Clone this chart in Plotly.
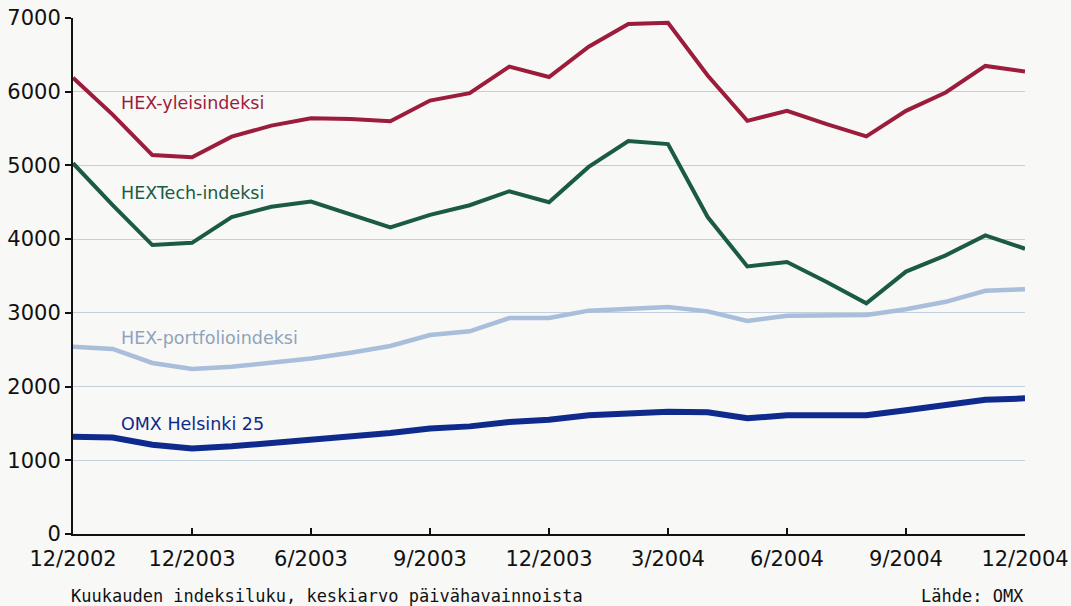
import plotly.graph_objects as go

months = ["12/2002", "1/2003", "2/2003", "3/2003", "4/2003", "5/2003", "6/2003", "7/2003",
          "8/2003", "9/2003", "10/2003", "11/2003", "12/2003", "1/2004", "2/2004", "3/2004",
          "4/2004", "5/2004", "6/2004", "7/2004", "8/2004", "9/2004", "10/2004", "11/2004",
          "12/2004"]

hex_yleis = [6190, 5690, 5140, 5110, 5390, 5540, 5640, 5630, 5600, 5880, 5980, 6340, 6200,
             6610, 6920, 6935, 6220, 5605, 5740, 5560, 5395, 5740, 5990, 6350, 6275]
hex_tech = [5030, 4460, 3920, 3950, 4300, 4440, 4510, 4340, 4160, 4330, 4460, 4650, 4500,
            4980, 5330, 5290, 4300, 3630, 3690, 3420, 3130, 3560, 3780, 4050, 3870]
hex_portfolio = [2540, 2510, 2320, 2240, 2270, 2320, 2380, 2460, 2550, 2700, 2750, 2930, 2930,
                 3030, 3060, 3080, 3020, 2890, 2960, 2960, 2970, 3050, 3150, 3300, 3320]
omx_h25 = [1320, 1310, 1210, 1160, 1190, 1230, 1270, 1320, 1370, 1430, 1460, 1520, 1550,
           1610, 1640, 1660, 1650, 1570, 1610, 1600, 1610, 1680, 1750, 1820, 1840]

series_names = ["HEX-yleisindeksi", "HEXTech-indeksi", "HEX-portfolioindeksi", "OMX Helsinki 25"]
tick_idx = [0, 3, 6, 9, 12, 15, 18, 21, 24]
tick_labels = ["12/2002", "12/2003", "6/2003", "9/2003", "12/2003", "3/2004", "6/2004",
               "9/2004", "12/2004"]
y_ticks = [0, 1000, 2000, 3000, 4000, 5000, 6000, 7000]

footnote = "Kuukauden indeksiluku, keskiarvo päivähavainnoista"
source = "Lähde: OMX"

colors = ["#9c1c3c", "#1b5a45", "#a9bedb", "#0e2a8c"]
widths = [4, 4, 4.5, 6]
label_colors = ["#9c1c3c", "#1b5a45", "#8ea3bd", "#0e2a8c"]
label_y = [5850, 4630, 2660, 1490]

x_idx = list(range(len(months)))
fig = go.Figure()
for name, vals, c, w in zip(series_names, [hex_yleis, hex_tech, hex_portfolio, omx_h25], colors, widths):
    fig.add_trace(go.Scatter(x=x_idx, y=vals, mode="lines", name=name,
                             line=dict(color=c, width=w, shape="linear"),
                             customdata=months, hovertemplate="%{customdata}: %{y}<extra>" + name + "</extra>"))

for name, c, yy in zip(series_names, label_colors, label_y):
    fig.add_annotation(x=1.15, y=yy, xref="x", yref="y", text=name, showarrow=False,
                       xanchor="left", yanchor="middle",
                       font=dict(family="DejaVu Sans", size=17.5, color=c))

fig.add_annotation(xref="paper", yref="paper", x=-0.004, y=-0.12, text=footnote, showarrow=False,
                   xanchor="left", yanchor="middle",
                   font=dict(family="DejaVu Sans Mono", size=17, color="#111111"))
fig.add_annotation(xref="paper", yref="paper", x=1.001, y=-0.12, text=source, showarrow=False,
                   xanchor="right", yanchor="middle",
                   font=dict(family="DejaVu Sans Mono", size=17, color="#111111"))

fig.update_layout(
    width=1071, height=606,
    margin=dict(l=73, r=46, t=18, b=72, autoexpand=False),
    paper_bgcolor="#f8f8f6", plot_bgcolor="#f8f8f6",
    showlegend=False,
    xaxis=dict(range=[0, 24], tickmode="array", tickvals=tick_idx, ticktext=tick_labels,
               automargin=False, ticklabelstandoff=5,
               showgrid=False, zeroline=False, showline=True, linecolor="#111111", linewidth=2,
               ticks="inside", ticklen=6, tickwidth=2, tickcolor="#111111",
               tickfont=dict(family="DejaVu Sans", size=21, color="#111111")),
    yaxis=dict(range=[0, 7000], tickmode="array", tickvals=y_ticks, automargin=False,
               showgrid=True, gridcolor="#c2d0de", gridwidth=1, zeroline=False,
               showline=True, linecolor="#111111", linewidth=2,
               ticks="outside", ticklen=6, tickwidth=2, tickcolor="#111111",
               tickfont=dict(family="DejaVu Sans", size=21, color="#111111")),
)

fig.write_html("out.html")
